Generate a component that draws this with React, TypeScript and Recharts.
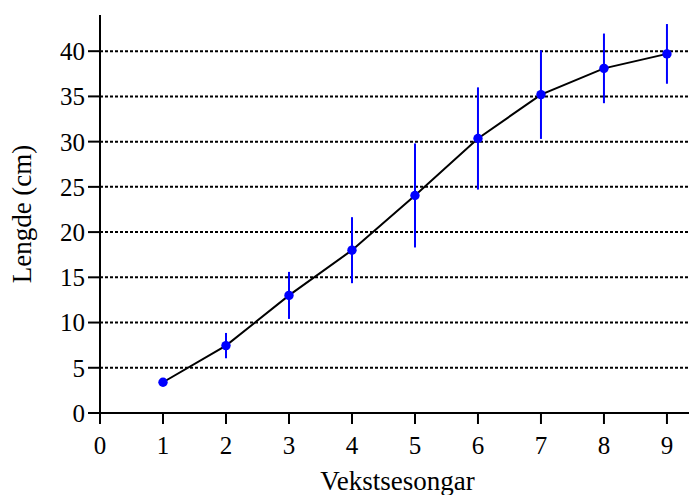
import { LineChart, Line, XAxis, YAxis, CartesianGrid, ErrorBar, Label } from 'recharts';

// growth seasons and mean length with spread
const seasons = [1, 2, 3, 4, 5, 6, 7, 8, 9];
const meanLength = [3.4, 7.45, 13.0, 18.0, 24.05, 30.35, 35.2, 38.1, 39.7];
const spread = [0.4, 1.4, 2.6, 3.65, 5.75, 5.65, 4.9, 3.85, 3.3];

const xTicks = [0, 1, 2, 3, 4, 5, 6, 7, 8, 9];
const yTicks = [0, 5, 10, 15, 20, 25, 30, 35, 40];

const data = seasons.map((s, i) => ({ season: s, length: meanLength[i], err: spread[i] }));

const FONT = '"Liberation Serif", "Times New Roman", serif';

export default function App() {
  const tickStyle = { fill: '#000', fontSize: 25, fontFamily: FONT };
  return (
    <div style={{ position: 'absolute', left: 0, top: 0, background: '#fff', fontFamily: FONT }}>
      <LineChart width={689} height={495} data={data} margin={{ top: 15, right: 0, left: 0, bottom: 0 }}>
        <CartesianGrid
          vertical={false}
          horizontalValues={yTicks}
          stroke="#000"
          strokeWidth={2}
          strokeDasharray="3 2"
        />
        <XAxis
          dataKey="season"
          type="number"
          domain={[0, 9.35]}
          ticks={xTicks}
          height={82}
          tickSize={11}
          tickMargin={12}
          tick={tickStyle}
          axisLine={{ stroke: '#000', strokeWidth: 2 }}
          tickLine={{ stroke: '#000', strokeWidth: 2 }}
          allowDataOverflow
        >
          <Label
            value="Vekstsesongar"
            position="insideBottom"
            offset={5}
            dx={3}
            fill="#000"
            style={{ fontSize: 27, fontFamily: FONT }}
          />
        </XAxis>
        <YAxis
          type="number"
          domain={[0, 44]}
          ticks={yTicks}
          width={100}
          tickSize={12}
          tickMargin={3}
          tick={tickStyle}
          axisLine={{ stroke: '#000', strokeWidth: 2 }}
          tickLine={{ stroke: '#000', strokeWidth: 2 }}
          allowDataOverflow
        >
          <Label
            value="Lengde (cm)"
            angle={-90}
            position="insideLeft"
            offset={21}
            textAnchor="middle"
            fill="#000"
            style={{ fontSize: 27, fontFamily: FONT, textAnchor: 'middle' }}
          />
        </YAxis>
        <Line
          type="linear"
          dataKey="length"
          stroke="#000"
          strokeWidth={2}
          dot={{ r: 4.7, fill: '#0000ff', stroke: 'none' }}
          isAnimationActive={false}
        >
          <ErrorBar dataKey="err" direction="y" width={0} stroke="#0000ff" strokeWidth={2} />
        </Line>
      </LineChart>
    </div>
  );
}
